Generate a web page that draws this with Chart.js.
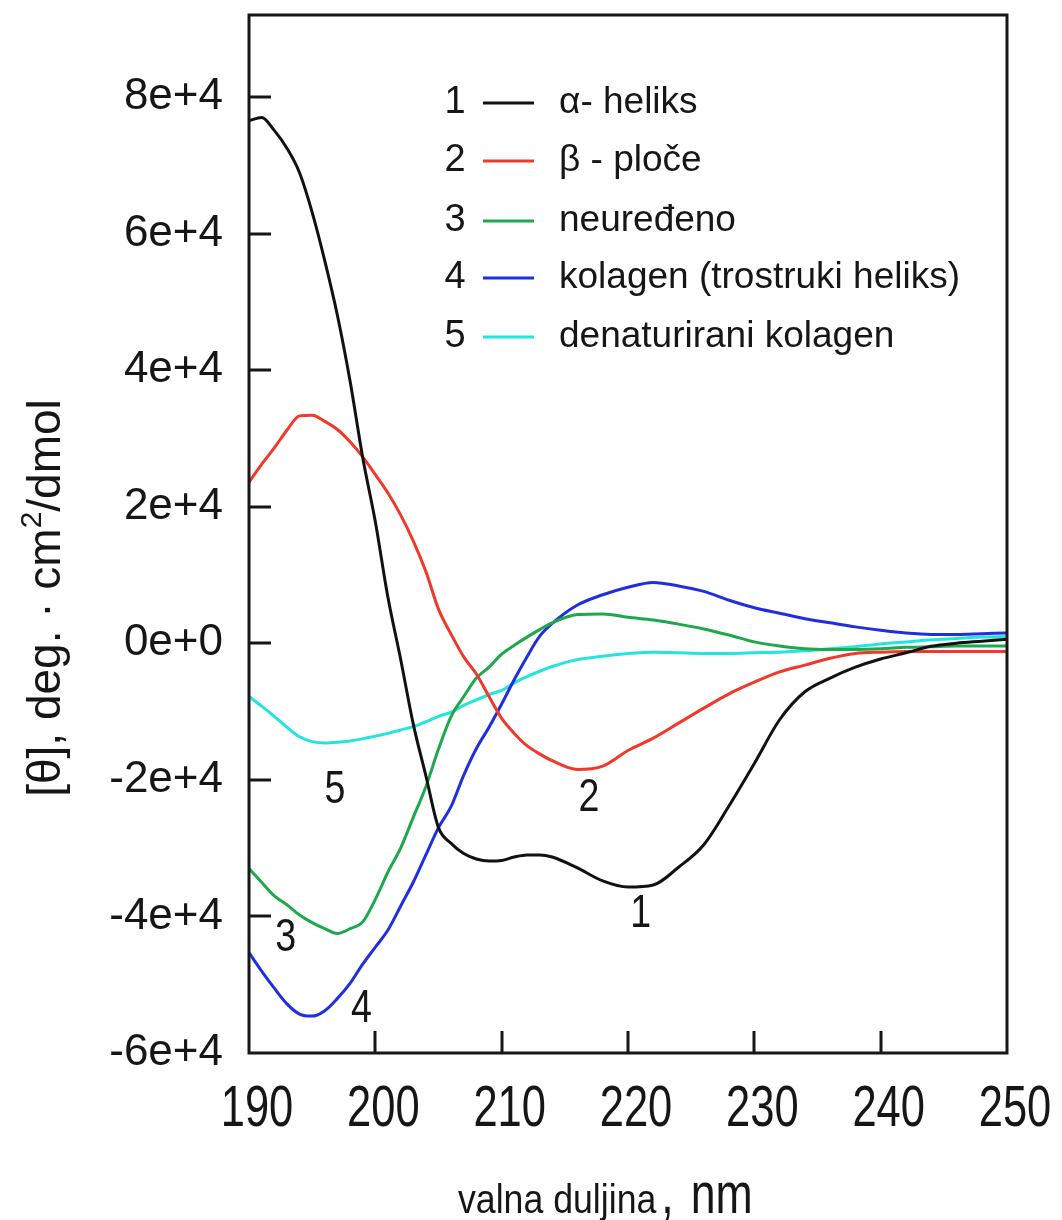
<!DOCTYPE html>
<html>
<head>
<meta charset="utf-8">
<style>
  html, body { margin: 0; padding: 0; background: #ffffff; }
  #wrap { width: 1062px; height: 1220px; position: relative; }
</style>
<script src="https://cdn.jsdelivr.net/npm/chart.js@4.4.1/dist/chart.umd.min.js"></script>
</head>
<body>
<div id="wrap"><canvas id="c" width="1062" height="1220"></canvas></div>
<script>
// ---------------- data ----------------
const wavelengths = [190,191,192,193,194,195,196,197,198,199,200,201,202,203,204,205,206,207,208,209,210,211,212,213,214,216,218,220,222,224,226,228,230,232,234,236,238,240,242,244,246,248,250];

const alphaHelix = [76500,77000,75100,72500,68900,63100,56000,48000,38400,27200,17800,6700,-2300,-11800,-19400,-27000,-29300,-30800,-31600,-31900,-31800,-31300,-31000,-31000,-31300,-32900,-34800,-35700,-35400,-32800,-29500,-23800,-17600,-11200,-7100,-5100,-3500,-2300,-1400,-450,0,300,600];

const betaSheet = [23600,26200,28600,31200,33300,33400,32500,31300,29500,27300,24700,22000,18800,15000,10500,5000,1300,-2000,-4500,-7800,-11000,-13200,-15000,-16200,-17200,-18500,-18000,-15700,-13900,-11700,-9500,-7400,-5700,-4200,-3200,-2200,-1500,-1300,-1200,-1200,-1200,-1200,-1200];

const randomCoil = [-33000,-35000,-37000,-38300,-39800,-40900,-41800,-42500,-41800,-40800,-37500,-33500,-30000,-25500,-21000,-15500,-10700,-7800,-5100,-3500,-1600,-300,900,2000,3000,4200,4300,3800,3400,2800,2100,1200,200,-400,-800,-900,-900,-800,-600,-500,-400,-400,-400];

const collagenTriple = [-45300,-48000,-50500,-52800,-54300,-54600,-53800,-52000,-49800,-47000,-44500,-42000,-38500,-35000,-31000,-27000,-23900,-19300,-15400,-12300,-8900,-5300,-2000,1000,2900,5600,7100,8200,8900,8400,7600,6300,5200,4400,3600,3000,2400,1900,1500,1300,1300,1400,1500];

const collagenDenatured = [-7800,-9200,-10700,-12300,-13700,-14400,-14600,-14500,-14300,-14000,-13600,-13200,-12700,-12200,-11500,-10700,-10100,-9100,-8300,-7500,-6900,-5800,-4900,-4100,-3400,-2400,-1900,-1500,-1300,-1400,-1500,-1500,-1400,-1300,-1100,-800,-500,-100,200,500,700,900,1000];

const seriesNumbers = ['1','2','3','4','5'];
const seriesLabels = ['α- heliks', 'β - ploče', 'neuređeno', 'kolagen (trostruki heliks)', 'denaturirani kolagen'];
const seriesValues = [alphaHelix, betaSheet, randomCoil, collagenTriple, collagenDenatured];

const xTickValues = [190,200,210,220,230,240,250];
const yTickValues = [-60000,-40000,-20000,0,20000,40000,60000,80000];

// where the curve numbers sit, in data units (wavelength, value)
const curveLabelX = [221.0, 216.9, 192.9, 198.9, 196.8];
const curveLabelY = [-39700, -22600, -43100, -53600, -21500];

// ---------------- styling ----------------
const colors = ['#111111', '#f2372b', '#1ea84c', '#1f2fe0', '#24e4e0'];
const REG = "'Liberation Sans', Arial, Helvetica, sans-serif";
const INK = '#161616';

const datasets = seriesValues.map((vals, i) => ({
  label: seriesLabels[i],
  data: wavelengths.map((w, k) => ({ x: w, y: vals[k] })),
  borderColor: colors[i],
  backgroundColor: colors[i],
  borderWidth: 3,
  pointRadius: 0,
  cubicInterpolationMode: 'monotone',
  fill: false
}));

// draw text squeezed horizontally by sx (condensed look)
function squeezed(ctx, text, x, y, font, sx, align) {
  ctx.save();
  ctx.font = font;
  const w = ctx.measureText(text).width * sx;
  let left = x;
  if (align === 'center') left = x - w / 2;
  else if (align === 'right') left = x - w;
  ctx.translate(left, y);
  ctx.scale(sx, 1);
  ctx.textAlign = 'left';
  ctx.fillText(text, 0, 0);
  ctx.restore();
  return w;
}

const decor = {
  id: 'decor',
  afterDraw(chart) {
    const { ctx, chartArea: a, scales: { x, y } } = chart;
    ctx.save();
    // inner tick marks
    ctx.strokeStyle = INK;
    ctx.lineWidth = 3;
    ctx.beginPath();
    y.ticks.forEach(t => {
      if (t.value <= y.min || t.value >= y.max) return;
      const py = Math.round(y.getPixelForValue(t.value));
      ctx.moveTo(a.left, py); ctx.lineTo(a.left + 22, py);
    });
    x.ticks.forEach(t => {
      if (t.value <= x.min || t.value >= x.max) return;
      const px = Math.round(x.getPixelForValue(t.value));
      ctx.moveTo(px, a.bottom); ctx.lineTo(px, a.bottom - 22);
    });
    ctx.stroke();
    // frame
    ctx.strokeRect(a.left, a.top, a.right - a.left, a.bottom - a.top);

    // x tick labels (condensed)
    ctx.fillStyle = INK;
    ctx.textBaseline = 'alphabetic';
    x.ticks.forEach(t => {
      squeezed(ctx, String(t.value), x.getPixelForValue(t.value) + 8, a.bottom + 73, '58px ' + REG, 0.75, 'center');
    });

    // legend
    const rowY = [103, 161, 221, 278, 337];
    ctx.textBaseline = 'middle';
    chart.data.datasets.forEach((ds, i) => {
      const yy = rowY[i];
      ctx.fillStyle = INK;
      ctx.font = '38px ' + REG;
      ctx.textAlign = 'center';
      ctx.fillText(seriesNumbers[i], 455, yy);
      ctx.strokeStyle = ds.borderColor;
      ctx.lineWidth = 3;
      ctx.beginPath(); ctx.moveTo(483, yy); ctx.lineTo(534, yy); ctx.stroke();
      ctx.textAlign = 'left';
      ctx.font = '37px ' + REG;
      ctx.fillStyle = INK;
      ctx.fillText(ds.label, 559, yy);
    });

    // curve numbers
    ctx.textBaseline = 'middle';
    ctx.fillStyle = INK;
    seriesNumbers.forEach((n, i) => {
      squeezed(ctx, n, x.getPixelForValue(curveLabelX[i]), y.getPixelForValue(curveLabelY[i]), '47px ' + REG, 0.8, 'center');
    });

    // x axis title
    ctx.textBaseline = 'alphabetic';
    let cx = 458;
    cx += squeezed(ctx, 'valna duljina', cx, 1213, '41px ' + REG, 0.87, 'left');
    cx += 5;
    cx += squeezed(ctx, ',', cx, 1213, '58px ' + REG, 0.77, 'left');
    cx += 17;
    squeezed(ctx, 'nm', cx, 1213, '58px ' + REG, 0.77, 'left');

    // y axis title (rotated)
    ctx.save();
    ctx.translate(47, 598);
    ctx.rotate(-Math.PI / 2);
    ctx.textBaseline = 'middle';
    ctx.textAlign = 'left';
    const runs = [
      { text: '[θ], deg. · cm', font: '46px ' + REG, dy: 0 },
      { text: '2', font: '30px ' + REG, dy: -14 },
      { text: '/dmol', font: '46px ' + REG, dy: 0 }
    ];
    let total = 0;
    runs.forEach(r => { ctx.font = r.font; total += ctx.measureText(r.text).width; });
    let rx = -total / 2;
    runs.forEach(r => { ctx.font = r.font; ctx.fillText(r.text, rx, r.dy); rx += ctx.measureText(r.text).width; });
    ctx.restore();

    ctx.restore();
  }
};

new Chart(document.getElementById('c'), {
  type: 'line',
  data: { datasets },
  options: {
    responsive: false,
    animation: false,
    layout: { padding: { top: 15, right: 55, bottom: 0, left: 0 } },
    plugins: { legend: { display: false }, tooltip: { enabled: false } },
    scales: {
      x: {
        type: 'linear',
        min: 190, max: 250,
        grid: { display: false, drawTicks: false },
        border: { display: false },
        afterBuildTicks: s => { s.ticks = xTickValues.map(v => ({ value: v })); },
        afterFit: s => { s.height = 1220 - 1053; s.paddingLeft = 0; s.paddingRight = 0; },
        ticks: { display: false, autoSkip: false, maxRotation: 0, minRotation: 0 }
      },
      y: {
        type: 'linear',
        min: -60000, max: 92000,
        grid: { display: false, drawTicks: false },
        border: { display: false },
        afterBuildTicks: s => { s.ticks = yTickValues.map(v => ({ value: v })); },
        afterFit: s => { s.width = 249; s.paddingTop = 0; s.paddingBottom = 0; },
        ticks: {
          padding: 26,
          color: INK,
          font: { family: REG, size: 44 },
          callback: v => Number(v).toExponential(0)
        }
      }
    }
  },
  plugins: [decor]
});
</script>
</body>
</html>
